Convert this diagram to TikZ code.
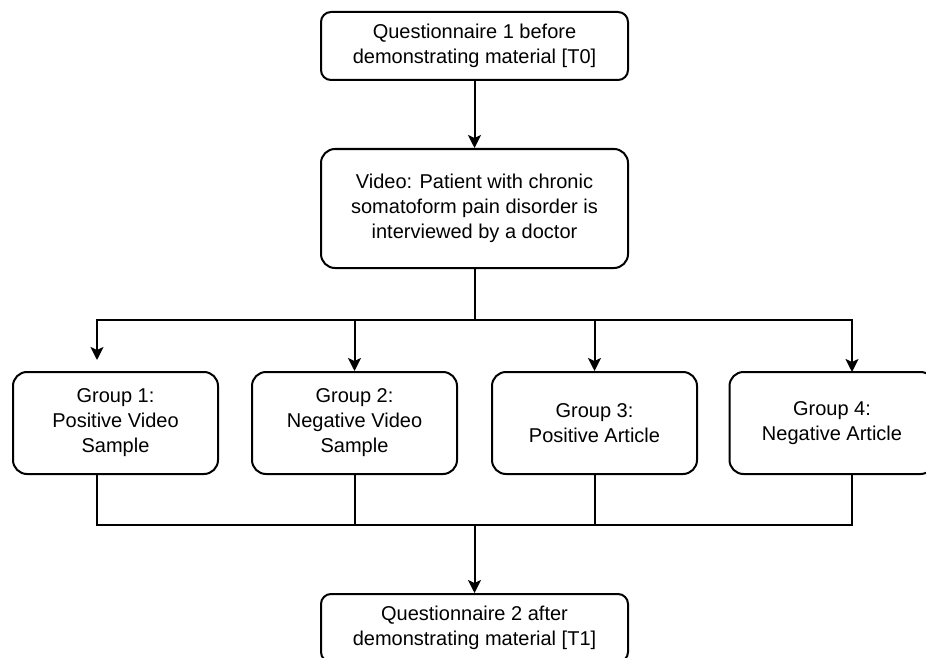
\documentclass[tikz,border=0pt]{standalone}
\usepackage{fontspec}
\setmainfont{Liberation Sans}
\usepackage{tikz}
\usetikzlibrary{arrows.meta, calc, positioning}

\begin{document}
\begin{tikzpicture}[
			x=1pt, y=-1pt,
			line width=2pt,
			>={Stealth[length=13pt, width=13pt, inset=3pt]},
			every node/.style={
					draw,
					align=center,
					inner sep=0pt,
					font=\fontsize{20}{25}\selectfont % Arial-like size of the source
				},
			stagebox/.style={rounded corners=10pt, minimum width=307pt, minimum height=68pt},
			groupbox/.style={rounded corners=14pt, minimum width=205pt, minimum height=102pt}
		]
		% page frame, the last box runs off the bottom edge
		\fill[white, use as bounding box] (0, 0) rectangle (926, 658);

		\node[stagebox] (pre) at (474.5, 46) {Questionnaire 1 before\\demonstrating material [T0]};
		\node[stagebox, minimum height=119pt, rounded corners=14pt] (video) at (474.5, 208.5)
		{Video: Patient with chronic\\somatoform pain disorder is\\interviewed by a doctor};

		\node[groupbox] (g1) at (115.5, 423) {Group 1:\\Positive Video\\Sample};
		\node[groupbox] (g2) at (354.5, 423) {Group 2:\\Negative Video\\Sample};
		\node[groupbox] (g3) at (594.5, 423) {Group 3:\\Positive Article};
		\node[groupbox] (g4) at (832, 423) {Group 4:\\Negative Article};

		\node[stagebox] (post) at (474.5, 628) {Questionnaire 2 after\\demonstrating material [T1]};

		\coordinate (split) at (474.5, 320);
		\coordinate (merge) at (474.5, 525);
		\coordinate (a1) at (97, 360);     % this arrow stops short of its box
		\coordinate (a4) at (852, 372);

		\draw[->] (pre) -- (video);
		\draw (video) -- (split);
		\draw[->] (split) -| (a1);
		\draw[->] (split) -| (g2.north);
		\draw[->] (split) -| (g3.north);
		\draw[->] (split) -| (a4);

		\draw (a1 |- g1.south) |- (merge);
		\draw (g2.south) |- (merge);
		\draw (g3.south) |- (merge);
		\draw (a4 |- g4.south) |- (merge);
		\draw[->] (merge) -- (post);
	\end{tikzpicture}
\end{document}
